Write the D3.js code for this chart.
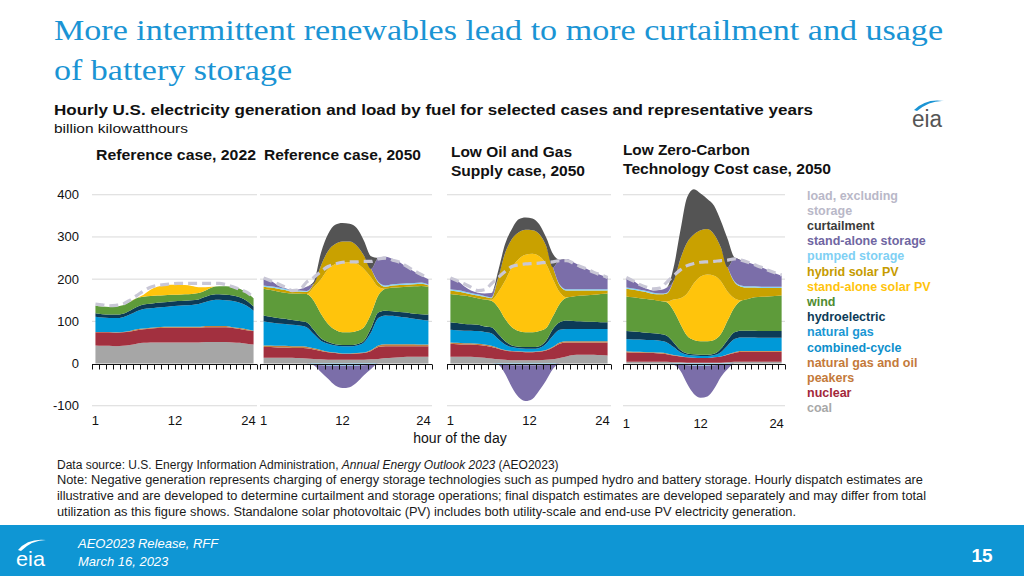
<!DOCTYPE html>
<html><head><meta charset="utf-8">
<script src="https://cdn.jsdelivr.net/npm/d3@7"></script>
<style>body{margin:0;background:#fff;} svg{display:block;}</style>
</head><body>
<svg id="c" width="1024" height="576"></svg>
<script>
// ---------------- DATA ----------------
const hours = d3.range(1, 25);
const hourTickLabels = [1, 12, 24];
const yTickValues = [400, 300, 200, 100, 0, -100];
const seriesKeys = ["coal","nuclear","peakers","ngcc","hydro","wind","solar","hybrid","pumped","storage","curtailment"];

// Reference case, 2022
const r22_coal    = [43,42,42,41,42,44,47,49,50,50,50,50,50,50,50,50,51,51,51,51,50,49,47,45];
const r22_nuclear = [31,32,32,32,32,32,32,32,33,34,35,35,35,35,35,35,35,35,35,35,34,33,32,32];
const r22_peakers = [1,1,1,1,1,1,2,2,2,2,2,2,2,2,2,2,3,3,3,3,2,2,2,1];
const r22_ngcc    = [36,34,33,34,35,39,43,46,46,47,47,49,50,51,52,54,57,61,62,61,62,60,56,47];
const r22_hydro   = [8,8,8,8,8,9,10,11,11,11,11,11,11,11,11,11,12,13,13,13,13,13,12,10];
const r22_wind    = [18,18,18,19,20,21,21,18,18,17,17,16,15,15,15,15,15,18,19,20,20,20,19,20];
const r22_solar   = [0,0,0,0,0,0,0,5,15,21,23,24,24,22,19,14,8,1,0,0,0,0,0,0];
const r22_hybrid  = [0,0,0,0,0,0,0,0,0,0,0,0,0,0,0,0,0,0,0,0,0,0,0,0];
const r22_pumped  = [0,0,0,0,0,0,0,0,0,0,0,0,0,0,0,0,0,0,0,0,0,0,0,0];
const r22_storage = [0,0,0,0,0,0,0,0,0,0,0,0,0,0,0,0,0,0,0,0,0,0,0,0];
const r22_curtail = [0,0,0,0,0,0,0,0,0,0,0,0,0,0,0,0,0,0,0,0,0,0,0,0];
const r22_load    = [141,139,137,138,141,150,161,172,181,185,187,189,190,190,190,190,190,190,190,187,182,176,169,157];

// Reference case, 2050
const r50_coal    = [14,14,14,14,14,13,12,11,10,9,9,9,9,9,9,10,11,13,14,15,16,16,16,16];
const r50_nuclear = [25,25,24,24,23,24,24,22,20,18,16,14,14,15,16,20,28,28,27,26,25,25,25,25];
const r50_peakers = [4,4,4,4,4,4,4,3,2,1,1,1,1,1,1,2,4,5,5,5,5,5,4,4];
const r50_ngcc    = [57,54,53,52,51,49,46,34,22,19,17,17,17,18,24,42,65,68,67,65,63,60,59,57];
const r50_hydro   = [14,14,13,12,11,11,12,10,6,4,3,3,3,3,4,10,13,11,11,11,12,12,13,14];
const r50_wind    = [63,63,63,62,63,65,67,69,58,43,34,30,30,31,32,34,40,52,56,59,61,65,67,66];
const r50_solar   = [0,0,0,0,0,0,0,32,82,130,156,166,166,160,138,86,21,0,0,0,0,0,0,0];
const r50_hybrid  = [5,6,6,6,5,5,5,8,32,43,47,49,49,42,32,20,10,5,5,5,5,5,5,3];
const r50_pumped  = [3,3,3,3,2,2,2,-2,-4,-5,-5,-5,-5,-5,-4,-3,2,3,3,3,3,3,3,2];
const r50_storage = [15,13,5,2,1,3,10,-2,-16,-31,-47,-53,-51,-40,-24,-10,56,68,60,51,38,27,16,13];
const r50_curtail = [0,0,0,0,0,0,0,5,30,40,46,44,42,42,35,30,0,0,0,0,0,0,0,0];
const r50_load    = [203,196,189,181,173,175,193,204,218,230,236,240,241,241,242,242,248,250,245,240,230,220,211,203];

// Low Oil and Gas Supply case, 2050
const log_coal    = [16,16,16,16,15,14,12,10,9,8,8,8,8,8,9,10,13,17,20,21,21,21,20,19];
const log_nuclear = [31,30,29,29,29,28,27,25,22,21,20,19,19,20,22,28,34,33,30,29,29,29,30,31];
const log_peakers = [3,3,3,3,3,3,3,2,1,1,1,1,1,1,1,2,3,3,3,3,3,3,3,3];
const log_ngcc    = [30,30,30,30,30,30,30,21,13,9,7,7,7,8,15,26,30,29,29,29,29,29,29,29];
const log_hydro   = [18,17,16,15,15,13,14,12,8,4,4,4,4,4,7,16,18,20,19,18,17,17,16,16];
const log_wind    = [67,67,67,65,63,64,63,63,53,43,37,35,35,36,30,30,44,54,58,61,63,64,67,68];
const log_solar   = [0,0,0,0,0,0,2,36,90,142,171,184,186,177,152,88,27,1,0,0,0,0,0,0];
const log_hybrid  = [8,8,7,6,6,6,4,35,66,67,63,59,56,53,43,28,16,16,14,12,11,10,8,7];
const log_pumped  = [3,3,3,3,3,2,2,-1,-3,-4,-4,-4,-4,-4,-3,-2,2,3,3,3,3,3,3,3];
const log_storage = [25,22,12,6,4,6,10,-2,-21,-52,-76,-85,-80,-60,-37,-11,59,72,64,56,48,40,34,28];
const log_curtail = [0,0,0,0,0,0,0,16,21,24,31,29,28,23,20,32,0,0,0,0,0,0,0,0];
const log_load    = [203,196,189,181,173,175,189,204,218,230,234,236,237,238,240,241,244,244,238,230,224,216,210,204];

// Low Zero-Carbon Technology Cost case, 2050
const lzc_coal    = [4,4,4,4,4,4,4,3,3,2,2,2,2,2,2,3,4,4,4,4,4,4,4,4];
const lzc_nuclear = [23,22,22,21,21,20,18,16,14,13,12,11,11,13,15,18,21,24,24,24,24,24,24,24];
const lzc_peakers = [2,2,2,2,2,2,2,1,1,0,0,0,0,0,0,1,2,2,2,2,2,2,2,2];
const lzc_ngcc    = [29,29,29,29,29,28,26,19,9,6,5,5,5,5,10,21,31,32,32,32,31,31,31,31];
const lzc_hydro   = [19,19,18,17,16,16,16,11,5,3,3,3,3,3,8,13,16,16,16,16,16,16,16,16];
const lzc_wind    = [82,81,80,80,79,78,79,75,62,42,34,32,32,33,35,46,59,71,75,79,81,82,83,84];
const lzc_solar   = [0,0,0,0,0,0,2,27,61,100,134,153,158,152,125,68,22,1,0,0,0,0,0,0];
const lzc_hybrid  = [18,18,17,16,14,16,19,44,93,121,116,110,108,98,80,58,38,32,27,23,21,20,19,18];
const lzc_pumped  = [3,3,3,3,3,2,2,-1,-3,-4,-5,-5,-5,-4,-3,-2,2,3,3,3,3,3,3,3];
const lzc_storage = [23,18,10,5,5,8,12,-2,-14,-44,-67,-76,-73,-56,-29,-11,55,60,57,51,46,39,32,26];
const lzc_curtail = [0,0,0,0,0,0,0,32,67,107,107,87,71,68,63,67,2,0,0,0,0,0,0,0];
const lzc_load    = [204,196,187,181,177,179,193,208,222,232,237,240,241,242,244,245,248,245,240,234,228,221,215,210];

const panelTitles = [["Reference case, 2022"],["Reference case, 2050"],["Low Oil and Gas","Supply case, 2050"],["Low Zero-Carbon","Technology Cost case, 2050"]];

const legendTexts = ["load, excluding","storage","curtailment","stand-alone storage","pumped storage","hybrid solar PV","stand-alone solar PV","wind","hydroelectric","natural gas","combined-cycle","natural gas and oil","peakers","nuclear","coal"];

// ---------------- STYLE ----------------
const seriesColors = {
  coal:"#a6a6a6", nuclear:"#a2303f", peakers:"#c4803f", ngcc:"#0099d8", hydro:"#0c3b57",
  wind:"#5e9b3a", solar:"#ffc40c", hybrid:"#c9a100", pumped:"#85d3f5", storage:"#7b6ea9", curtailment:"#545454"
};
const legendColors = ["#b9b8c8","#b9b8c8","#3b3b3b","#6f66a2","#80d0f4","#c69b00","#ffc40c","#4f8c31","#0c3b57","#1a97d4","#0d8fcc","#c47a3a","#c47a3a","#a3283a","#a8a8a8"];
const loadColor = "#c9c7d6";

const panelData = [
  {k:"r22", xr:[92,257]},
  {k:"r50", xr:[260,432]},
  {k:"log", xr:[447,611]},
  {k:"lzc", xr:[623,785]}
];
const sources = {
  r22:{coal:r22_coal,nuclear:r22_nuclear,peakers:r22_peakers,ngcc:r22_ngcc,hydro:r22_hydro,wind:r22_wind,solar:r22_solar,hybrid:r22_hybrid,pumped:r22_pumped,storage:r22_storage,curtailment:r22_curtail,load:r22_load},
  r50:{coal:r50_coal,nuclear:r50_nuclear,peakers:r50_peakers,ngcc:r50_ngcc,hydro:r50_hydro,wind:r50_wind,solar:r50_solar,hybrid:r50_hybrid,pumped:r50_pumped,storage:r50_storage,curtailment:r50_curtail,load:r50_load},
  log:{coal:log_coal,nuclear:log_nuclear,peakers:log_peakers,ngcc:log_ngcc,hydro:log_hydro,wind:log_wind,solar:log_solar,hybrid:log_hybrid,pumped:log_pumped,storage:log_storage,curtailment:log_curtail,load:log_load},
  lzc:{coal:lzc_coal,nuclear:lzc_nuclear,peakers:lzc_peakers,ngcc:lzc_ngcc,hydro:lzc_hydro,wind:lzc_wind,solar:lzc_solar,hybrid:lzc_hybrid,pumped:lzc_pumped,storage:lzc_storage,curtailment:lzc_curtail,load:lzc_load}
};

const svg = d3.select("#c");
const SANS = "'Liberation Sans', Arial, sans-serif";

// Title
const title = svg.append("g").attr("font-family","'Liberation Serif', 'DejaVu Serif', serif").attr("fill","#1a94d4").attr("font-size",30);
title.append("text").attr("x",54).attr("y",40).attr("textLength",889).attr("lengthAdjust","spacingAndGlyphs").text("More intermittent renewables lead to more curtailment and usage");
title.append("text").attr("x",54).attr("y",80).attr("textLength",238).attr("lengthAdjust","spacingAndGlyphs").text("of battery storage");

svg.append("text").attr("x",54).attr("y",115).attr("font-family",SANS).attr("font-weight","bold").attr("font-size",15.5).attr("fill","#111")
  .attr("textLength",759).attr("lengthAdjust","spacingAndGlyphs")
  .text("Hourly U.S. electricity generation and load by fuel for selected cases and representative years");
svg.append("text").attr("x",54).attr("y",133).attr("font-family",SANS).attr("font-size",13).attr("fill","#111")
  .attr("textLength",134).attr("lengthAdjust","spacingAndGlyphs").text("billion kilowatthours");

// eia logo top right
const logo = svg.append("g");
logo.append("text").attr("x",912).attr("y",127).attr("font-family",SANS).attr("font-size",23).attr("fill","#555").attr("textLength",30).attr("lengthAdjust","spacingAndGlyphs").text("eia");
logo.append("path").attr("d","M914,110 Q926,98 944,101 Q930,100 917,111 Z").attr("fill","#1a94d4");

// Panel headers
const headerPos = [[96,160,[160]],[264,160,[157]],[451,157,[121,134]],[623,155,[127,208]]];
panelTitles.forEach((lines,i)=>{
  lines.forEach((t,j)=>{
    svg.append("text").attr("x",headerPos[i][0]).attr("y",headerPos[i][1]+j*19).attr("font-family",SANS).attr("font-weight","bold")
      .attr("font-size",14).attr("fill","#111").attr("textLength",headerPos[i][2][j]).attr("lengthAdjust","spacingAndGlyphs").text(t);
  });
});

// Y scale
const y = d3.scaleLinear().domain([-100,400]).range([405.75,194.75]);

// Y axis labels
yTickValues.forEach(v=>{
  svg.append("text").attr("x",79).attr("y",y(v)+4.5).attr("text-anchor","end").attr("font-family",SANS).attr("font-size",13).attr("fill","#111").text(v);
});

const stackPos = d3.stack().keys(seriesKeys).value((d,k)=>Math.max(0,d[k]));
const negKeys = ["pumped","storage"];
const stackNeg = d3.stack().keys(negKeys).value((d,k)=>Math.min(0,d[k]));

panelData.forEach((p,pi)=>{
  const src = sources[p.k];
  const rows = hours.map((h,i)=>{ const r={hour:h}; seriesKeys.forEach(k=>r[k]=src[k][i]); r.load=src.load[i]; return r; });
  const x = d3.scalePoint().domain(hours).range(p.xr).padding(0.5);
  const g = svg.append("g");
  // gridlines
  yTickValues.filter(v=>v!==0).forEach(v=>{
    g.append("line").attr("x1",p.xr[0]).attr("x2",p.xr[1]).attr("y1",y(v)).attr("y2",y(v)).attr("stroke","#d9d9d9").attr("stroke-width",1);
  });
  const area = d3.area().x(d=>x(d.data.hour)).y0(d=>y(d[0])).y1(d=>y(d[1])).curve(d3.curveMonotoneX);
  const pos = stackPos(rows);
  g.selectAll("path.pos").data(pos).join("path").attr("class","pos").attr("d",area).attr("fill",d=>seriesColors[d.key]);
  const neg = stackNeg(rows);
  g.selectAll("path.neg").data(neg).join("path").attr("class","neg").attr("d",area).attr("fill",d=>seriesColors[d.key]);
  // load line
  const line = d3.line().x(d=>x(d.hour)).y(d=>y(d.load)).curve(d3.curveMonotoneX);
  g.append("path").datum(rows).attr("d",line).attr("fill","none").attr("stroke",loadColor).attr("stroke-width",3.2).attr("stroke-dasharray","9,5");
  // axis at zero
  const y0 = Math.round(y(0))+0.5;
  g.append("line").attr("x1",p.xr[0]).attr("x2",p.xr[1]).attr("y1",y0).attr("y2",y0).attr("stroke","#111").attr("stroke-width",1);
  const step = x.step();
  d3.range(25).forEach(i=>{
    const tx = Math.round(p.xr[0]+i*step)+0.5;
    g.append("line").attr("x1",tx).attr("x2",tx).attr("y1",y0).attr("y2",y0+5).attr("stroke","#111").attr("stroke-width",1);
  });
  // hour labels
  hourTickLabels.forEach(h=>{
    let dx = 0;
    if (h===24) dx = -5;
    if (h===12 && (pi===0||pi===2)) dx = 4;
    g.append("text").attr("x",x(h)+dx).attr("y",pi===3?428:425).attr("text-anchor","middle").attr("font-family",SANS).attr("font-size",13).attr("fill","#111").text(h);
  });
});

svg.append("text").attr("x",460).attr("y",443).attr("text-anchor","middle").attr("font-family",SANS).attr("font-size",14).attr("fill","#111").text("hour of the day");

// Legend
legendTexts.forEach((t,i)=>{
  svg.append("text").attr("x",807).attr("y",199.5+i*15.2).attr("font-family",SANS).attr("font-weight","bold").attr("font-size",12.5).attr("fill",legendColors[i]).text(t);
});

// Footnotes
const fn = svg.append("g").attr("font-family",SANS).attr("font-size",12).attr("fill","#1a1a1a");
const l1 = fn.append("text").attr("x",57).attr("y",469);
l1.append("tspan").text("Data source: U.S. Energy Information Administration, ");
l1.append("tspan").attr("font-style","italic").text("Annual Energy Outlook 2023");
l1.append("tspan").text(" (AEO2023)");
fn.append("text").attr("x",57).attr("y",484).attr("textLength",866).attr("lengthAdjust","spacingAndGlyphs").text("Note: Negative generation represents charging of energy storage technologies such as pumped hydro and battery storage. Hourly dispatch estimates are");
fn.append("text").attr("x",57).attr("y",500).attr("textLength",869).attr("lengthAdjust","spacingAndGlyphs").text("illustrative and are developed to determine curtailment and storage operations; final dispatch estimates are developed separately and may differ from total");
fn.append("text").attr("x",57).attr("y",516).attr("textLength",739).attr("lengthAdjust","spacingAndGlyphs").text("utilization as this figure shows. Standalone solar photovoltaic (PV) includes both utility-scale and end-use PV electricity generation.");

// Footer bar
svg.append("rect").attr("x",0).attr("y",525).attr("width",1024).attr("height",51).attr("fill","#0f96d4");
const ft = svg.append("g").attr("font-family",SANS).attr("fill","#fff");
ft.append("text").attr("x",78).attr("y",548).attr("font-size",13).attr("font-style","italic").text("AEO2023 Release, RFF");
ft.append("text").attr("x",78).attr("y",566).attr("font-size",13).attr("font-style","italic").text("March 16, 2023");
ft.append("text").attr("x",982).attr("y",562).attr("text-anchor","middle").attr("font-size",19).attr("font-weight","bold").text("15");
ft.append("text").attr("x",16).attr("y",566).attr("font-size",21).attr("textLength",29).attr("lengthAdjust","spacingAndGlyphs").text("eia");
ft.append("path").attr("d","M18,550 Q28,538 46,540 Q32,540 21,551 Z").attr("fill","#fff");
</script>
</body></html>
